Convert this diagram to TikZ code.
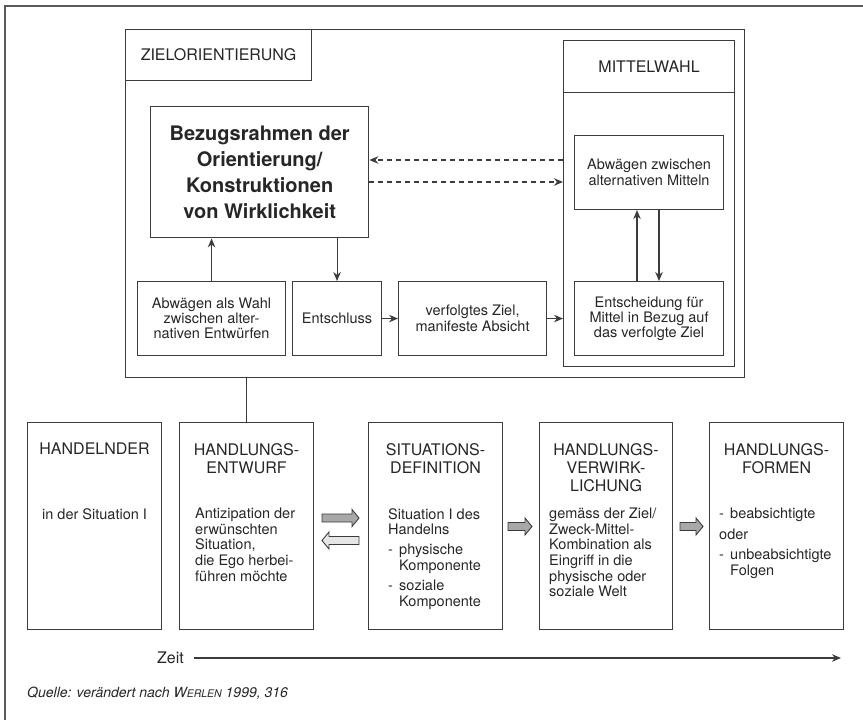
\documentclass[tikz,border=0pt]{standalone}
\usepackage{fontspec}
\setmainfont{TeX Gyre Heros}
\usetikzlibrary{arrows.meta}
\definecolor{linec}{HTML}{3C3C3C}
\definecolor{textc}{HTML}{262626}
\definecolor{framec}{HTML}{5A5A5A}
\definecolor{darkfill}{HTML}{A8A8A8}
\definecolor{lightfill}{HTML}{E6E6E6}
\newcommand\fsTitle{\fontsize{16}{18.3}\selectfont}
\newcommand\fsBody{\fontsize{14.5}{15.6}\selectfont}
\newcommand\fsBig{\fontsize{20}{26}\selectfont\bfseries}
\newcommand\rblockarrow[4]{\draw[barrow, fill=#4] (#1,{#3-4}) -- ({#2-7},{#3-4}) -- ({#2-7},{#3-8.5}) -- (#2,#3) -- ({#2-7},{#3+8.5}) -- ({#2-7},{#3+4}) -- (#1,{#3+4}) -- cycle;}
\newcommand\lblockarrow[4]{\draw[barrow, fill=#4] (#1,{#3-4}) -- ({#2+7},{#3-4}) -- ({#2+7},{#3-8.5}) -- (#2,#3) -- ({#2+7},{#3+8.5}) -- ({#2+7},{#3+4}) -- (#1,{#3+4}) -- cycle;}
\newcommand\dashitem[1]{\makebox[11pt][l]{-}#1}
\begin{document}
\begin{tikzpicture}[x=1pt,y=-1pt,
  every node/.style={text=textc},
  rbox/.style={draw=linec, line width=1.1pt, inner sep=0pt, anchor=north west, align=center, font=\fsBody},
  titletext/.style={anchor=north, inner sep=0pt, align=center, font=\fsTitle},
  bodytext/.style={anchor=north west, inner sep=0pt, align=left, font=\fsBody},
  conn/.style={draw=linec, line width=1.1pt},
  arr/.style={conn, -{Stealth[length=9pt,width=7.5pt]}},
  darr/.style={arr, dashed, dash pattern=on 5pt off 4pt},
  barrow/.style={draw=linec, line width=0.9pt, line join=miter},
  frame/.style={draw=framec, line width=1.6pt}
]
\useasboundingbox (0,0) rectangle (863,720);
% outer frame (top and left only)
\draw[frame] (5,720) -- (5,6) -- (863,6);

% ZIELORIENTIERUNG
\node[rbox, minimum width=619pt, minimum height=348pt] (ziel) at (125,29) {};
\node[rbox, minimum width=186pt, minimum height=51pt, font=\fsTitle] (zlab) at (125,29) {ZIELORIENTIERUNG};
\node[rbox, line width=1.4pt, minimum width=218pt, minimum height=131pt, font=\fsBig] (bez) at (150,106) {Bezugsrahmen der\\Orientierung/\\Konstruktionen\\von Wirklichkeit};
\node[rbox, minimum width=148pt, minimum height=74pt, font=\fontsize{14.5}{15.2}\selectfont] (abw) at (137,281) {Abwägen als Wahl\\zwischen alter-\\nativen Entwürfen};
\node[rbox, minimum width=89pt, minimum height=74pt] (ent) at (292,281) {Entschluss};
\node[rbox, minimum width=148pt, minimum height=74pt] (verf) at (398,281) {verfolgtes Ziel,\\manifeste Absicht};

% MITTELWAHL
\node[rbox, minimum width=171pt, minimum height=326pt] (mw) at (563,40) {};
\node[rbox, minimum width=171pt, minimum height=52pt, font=\fsTitle] (mwh) at (563,40) {MITTELWAHL};
\node[rbox, minimum width=149pt, minimum height=74pt] (abz) at (574,135) {Abwägen zwischen\\alternativen Mitteln};
\node[rbox, minimum width=149pt, minimum height=74pt, font=\fontsize{14.5}{15.2}\selectfont] (ent2) at (574,281) {Entscheidung für\\Mittel in Bezug auf\\das verfolgte Ziel};

% connectors in upper part
\draw[arr] (abw.north) -- (abw.north |- bez.south);
\draw[arr] (ent.north |- bez.south) -- (ent.north);
\draw[arr] (ent.east) -- (verf.west);
\draw[arr] (verf.east) -- (verf.east -| mw.west);
\coordinate (dA) at (0,160);
\coordinate (dB) at (0,182);
\draw[darr] (mw.west |- dA) -- (bez.east |- dA);
\draw[darr] (bez.east |- dB) -- (mw.west |- dB);
\coordinate (mA) at (637,0);
\coordinate (mB) at (659,0);
\draw[arr] (mA |- ent2.north) -- (mA |- abz.south);
\draw[arr] (mB |- abz.south) -- (mB |- ent2.north);

% bottom boxes
\node[rbox, minimum width=134pt, minimum height=207pt] (b1) at (27,422) {};
\node[rbox, minimum width=134pt, minimum height=207pt] (b2) at (179,422) {};
\node[rbox, minimum width=134pt, minimum height=207pt] (b3) at (368,422) {};
\node[rbox, minimum width=133pt, minimum height=207pt] (b4) at (539,422) {};
\node[rbox, minimum width=134pt, minimum height=207pt] (b5) at (709,422) {};

\draw[conn] (ziel.south -| b2.north) -- (b2.north);

% titles
\node[titletext] (t1) at (b1.north |- 0,443) {HANDELNDER};
\node[titletext] (t2) at (b2.north |- 0,443) {HANDLUNGS-\\ENTWURF};
\node[titletext] (t3) at (b3.north |- 0,443) {SITUATIONS-\\DEFINITION};
\node[titletext] (t4) at (b4.north |- 0,443) {HANDLUNGS-\\VERWIRK-\\LICHUNG};
\node[titletext] (t5) at (b5.north |- 0,443) {HANDLUNGS-\\FORMEN};

% bodies
\node[anchor=north, inner sep=0pt, font=\fsBody] (c1) at (b1.north |- 0,508) {in der Situation I};
\node[bodytext] (c2) at (195,508) {Antizipation der\\erwünschten\\Situation,\\die Ego herbei-\\führen möchte};
\node[bodytext] (c3) at (388,508) {Situation I des\\Handelns\\[4.5pt]\dashitem{physische}\\\hspace*{11pt}Komponente\\[5pt]\dashitem{soziale}\\\hspace*{11pt}Komponente};
\node[bodytext] (c4) at (549,508) {gemäss der Ziel/\\Zweck-Mittel-\\Kombination als\\Eingriff in die\\physische oder\\soziale Welt};
\node[bodytext] (c5) at (719,508) {\dashitem{beabsichtigte}\\[5pt]oder\\[5pt]\dashitem{unbeabsichtigte}\\\hspace*{11pt}Folgen};

% block arrows
\rblockarrow{322}{359}{518}{darkfill}
\lblockarrow{359}{322}{540.5}{lightfill}
\rblockarrow{508}{532}{526.5}{darkfill}
\rblockarrow{680}{703}{526.5}{darkfill}

% time axis
\node[anchor=base west, inner sep=0pt, font=\fsTitle] (zeit) at (157,663.5) {Zeit};
\coordinate (zend) at (841,658);
\draw[arr, line width=1.1pt] ([xshift=10pt]zeit.east |- zend) -- (zend);

% source
\node[anchor=base west, inner sep=0pt, font=\fontsize{14}{16}\selectfont\itshape] (src) at (27,697) {Quelle: verändert nach W{\fontsize{10.5}{12}\selectfont ERLEN} 1999, 316};
\end{tikzpicture}
\end{document}
